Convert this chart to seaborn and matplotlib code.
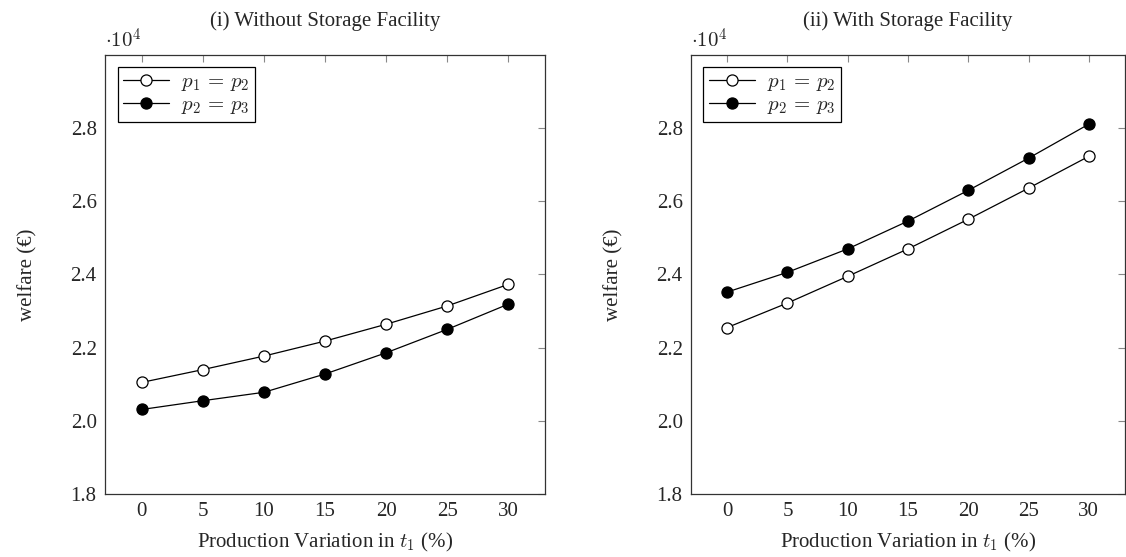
import matplotlib
matplotlib.use("Agg")
import matplotlib.pyplot as plt
import seaborn as sns
import pandas as pd

# Data (welfare in euros)
variation = [0, 5, 10, 15, 20, 25, 30]
without_p1p2 = [21050, 21400, 21770, 22180, 22640, 23140, 23730]
without_p2p3 = [20310, 20550, 20780, 21280, 21860, 22500, 23190]
with_p1p2 = [22550, 23220, 23950, 24700, 25510, 26360, 27230]
with_p2p3 = [23520, 24060, 24700, 25460, 26300, 27180, 28110]
titles = ["(i) Without Storage Facility", "(ii) With Storage Facility"]
series_labels = [r"$p_1\,=\,p_2$", r"$p_2\,=\,p_3$"]
yticks = [1.8, 2.0, 2.2, 2.4, 2.6, 2.8]
xticks = [0, 5, 10, 15, 20, 25, 30]

sns.set_style("white")
plt.rcParams["font.family"] = ["Liberation Serif", "DejaVu Serif"]
plt.rcParams["mathtext.fontset"] = "cm"

FS = 15
fig = plt.figure(figsize=(11.26, 5.57), dpi=100)
W, H = 1126, 557
ax1 = fig.add_axes([105 / W, (H - 494) / H, 440 / W, 439 / H])
ax2 = fig.add_axes([691 / W, (H - 494) / H, 434 / W, 439 / H])

panels = [(ax1, without_p1p2, without_p2p3), (ax2, with_p1p2, with_p2p3)]
for i, (ax, a, b) in enumerate(panels):
    df = pd.DataFrame({
        "x": variation * 2,
        "y": [v / 1e4 for v in a] + [v / 1e4 for v in b],
        "s": [series_labels[0]] * len(a) + [series_labels[1]] * len(b),
    })
    for lab, face in zip(series_labels, ["white", "black"]):
        sub = df[df["s"] == lab]
        sns.lineplot(data=sub, x="x", y="y", ax=ax, color="black", linewidth=0.9,
                     marker="o", markersize=8, markerfacecolor=face,
                     markeredgecolor="black", markeredgewidth=0.9, label=lab)
    ax.set_xlim(-3, 33)
    ax.set_ylim(1.8, 3.0)
    ax.set_xticks(xticks)
    ax.set_yticks(yticks)
    ax.set_yticklabels([f"{t:.1f}" for t in yticks])
    ax.tick_params(direction="in", length=5, width=0.8, color="#888888",
                   top=True, right=True, labelsize=FS, pad=6)
    for sp in ax.spines.values():
        sp.set_color("#333333")
        sp.set_linewidth(0.9)
    ax.set_xlabel(r"Production Variation in $t_1$ (%)", fontsize=FS, labelpad=7)
    ax.set_ylabel("welfare (€)", fontsize=FS, labelpad=24)
    ax.set_title(titles[i], fontsize=FS, pad=21)
    ax.text(0.0, 1.005, r"$\cdot 10^4$", transform=ax.transAxes, fontsize=FS,
            ha="left", va="bottom")
    leg = ax.legend(loc="upper left", fontsize=FS, frameon=True, fancybox=False,
                    edgecolor="black", framealpha=1, handlelength=2.2,
                    borderaxespad=0.6, labelspacing=0.12, borderpad=0.25,
                    handletextpad=0.6)
    leg.get_frame().set_linewidth(0.9)

fig.savefig("out.png", dpi=100)
